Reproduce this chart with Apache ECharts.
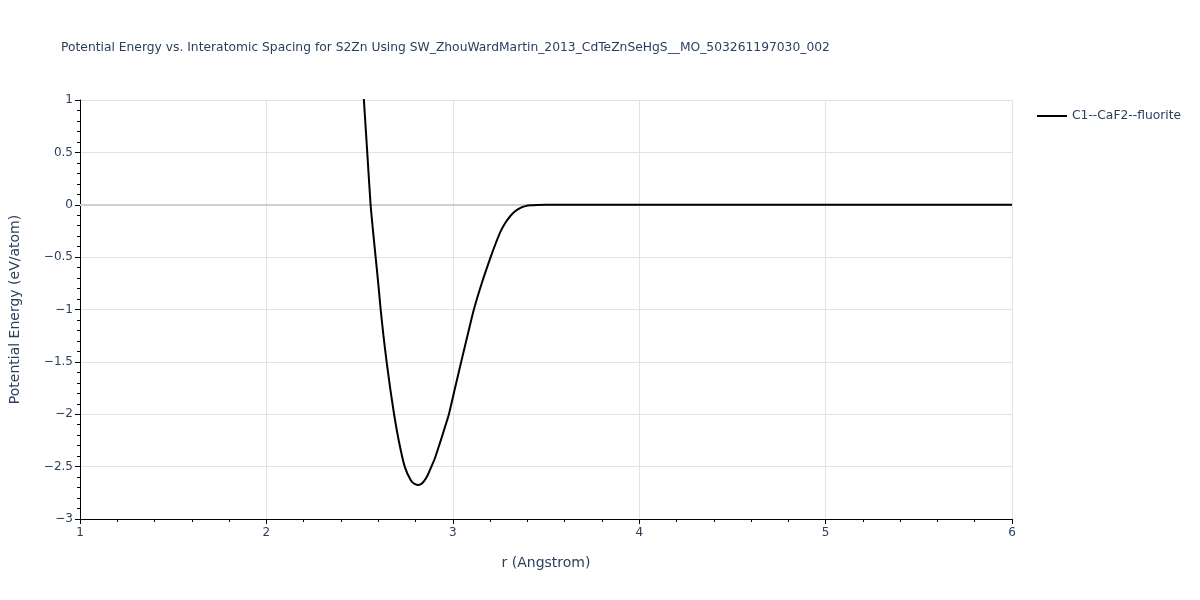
<!DOCTYPE html>
<html>
<head>
<meta charset="utf-8">
<script src="https://cdn.jsdelivr.net/npm/echarts@6/dist/echarts.min.js"></script>
<style>html,body{margin:0;padding:0;background:#fff}#chart{width:1200px;height:600px}</style>
</head>
<body>
<div id="chart"></div>
<script>
const titleText = "Potential Energy vs. Interatomic Spacing for S2Zn Using SW_ZhouWardMartin_2013_CdTeZnSeHgS__MO_503261197030_002";
const seriesName = "C1--CaF2--fluorite";
const rValues = [2.505, 2.523, 2.541, 2.559, 2.572, 2.586, 2.600, 2.613, 2.628, 2.645, 2.664, 2.685, 2.711, 2.742, 2.774, 2.795, 2.818, 2.840, 2.863, 2.884, 2.905, 2.930, 2.955, 2.979, 3.012, 3.045, 3.080, 3.113, 3.158, 3.203, 3.230, 3.256, 3.283, 3.310, 3.336, 3.363, 3.390, 3.417, 3.450, 3.500, 3.600, 4.0, 4.5, 5.0, 5.5, 6.0];
const energyValues = [1.50, 1.0, 0.5, 0.0, -0.25, -0.5, -0.75, -1.0, -1.25, -1.5, -1.75, -2.0, -2.26, -2.5, -2.627, -2.665, -2.675, -2.652, -2.59, -2.505, -2.415, -2.28, -2.14, -2.0, -1.75, -1.5, -1.24, -1.0, -0.735, -0.5, -0.37, -0.257, -0.17, -0.105, -0.06, -0.03, -0.013, -0.005, -0.002, 0, 0, 0, 0, 0, 0, 0];
const xTicks = {min: 1, max: 6, interval: 1};
const yTicks = {min: -3, max: 1, interval: 0.5};

const font = "'DejaVu Sans', Verdana, sans-serif";
const txt = '#2a3f5f';
const chart = echarts.init(document.getElementById('chart'), null, {renderer: 'canvas'});
chart.setOption({
  animation: false,
  backgroundColor: '#fff',
  title: {text: titleText, left: 56, top: 37, textStyle: {fontFamily: font, fontSize: 12.3, fontWeight: 'normal', color: txt}},
  legend: {
    data: [seriesName], left: 1032, top: 105, orient: 'vertical',
    itemWidth: 30, itemHeight: 2, icon: 'rect', itemGap: 5,
    textStyle: {fontFamily: font, fontSize: 12.3, color: txt}
  },
  grid: {left: 79, right: 188, top: 100, bottom: 81, containLabel: false},
  xAxis: {
    type: 'value', min: xTicks.min, max: xTicks.max, interval: xTicks.interval,
    name: 'r (Angstrom)', nameLocation: 'middle', nameGap: 37,
    nameTextStyle: {fontFamily: font, fontSize: 14, color: txt},
    axisLine: {show: true, onZero: false, lineStyle: {color: '#000', width: 1}},
    axisTick: {show: true, inside: false, length: 5, lineStyle: {color: '#000'}},
    minorTick: {show: true, splitNumber: 5, length: 3, lineStyle: {color: '#000'}},
    axisLabel: {fontFamily: font, fontSize: 12, color: txt, margin: 8},
    splitLine: {show: true, lineStyle: {color: '#e2e2e2', width: 1}}
  },
  yAxis: {
    type: 'value', min: yTicks.min, max: yTicks.max, interval: yTicks.interval,
    name: 'Potential Energy (eV/atom)', nameLocation: 'middle', nameGap: 58,
    nameTextStyle: {fontFamily: font, fontSize: 14, color: txt},
    axisLine: {show: true, onZero: false, lineStyle: {color: '#000', width: 1}},
    axisTick: {show: true, inside: false, length: 5, lineStyle: {color: '#000'}},
    minorTick: {show: true, splitNumber: 5, length: 3, lineStyle: {color: '#000'}},
    axisLabel: {fontFamily: font, fontSize: 12, color: txt, margin: 7,
      formatter: v => (v < 0 ? '\u2212' + Math.abs(v) : String(v))},
    splitLine: {show: true, lineStyle: {color: '#e2e2e2', width: 1}}
  },
  series: [{
    name: seriesName, type: 'line', showSymbol: false, symbol: 'none',
    data: rValues.map((r, i) => [r, energyValues[i]]),
    lineStyle: {color: '#000', width: 2}, itemStyle: {color: '#000'},
    smooth: 0.2, clip: true,
    markLine: {silent: true, symbol: 'none', label: {show: false},
      lineStyle: {color: '#cfcfcf', width: 2, type: 'solid'}, data: [{yAxis: 0}], z: 1}
  }]
});
</script>
</body>
</html>
